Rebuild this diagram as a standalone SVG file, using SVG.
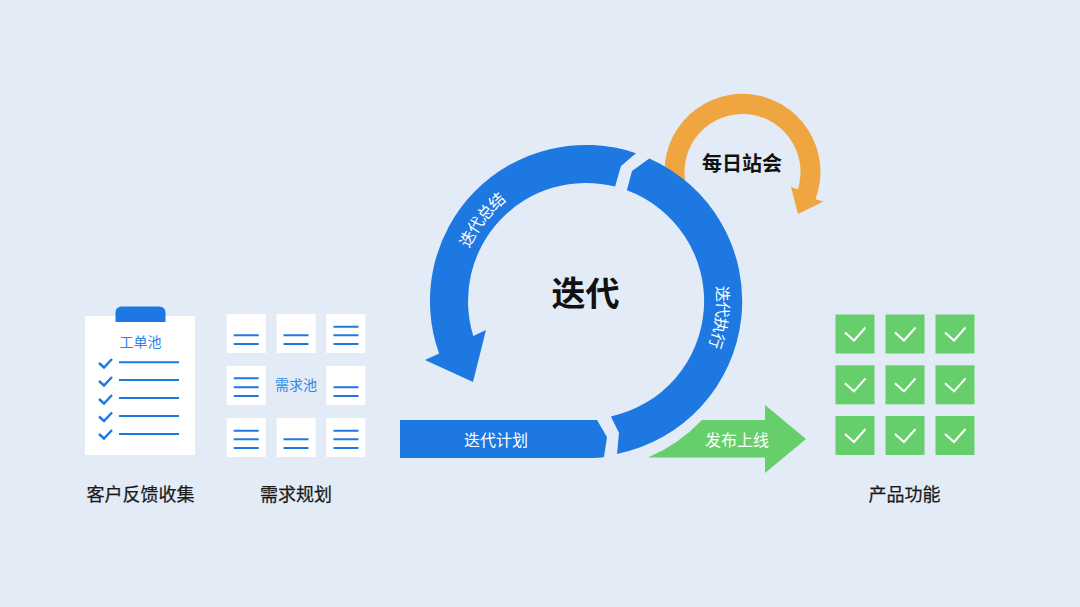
<svg xmlns="http://www.w3.org/2000/svg" xmlns:xlink="http://www.w3.org/1999/xlink" width="1080" height="607" viewBox="0 0 1080 607">
<style>
text{font-family:"Noto Sans CJK SC","Liberation Sans",sans-serif;text-anchor:middle;dominant-baseline:central}
.lbl{font-size:18px;font-weight:400;fill:#1a1a1a;stroke:#1a1a1a;stroke-width:.25}
.w{font-size:16px;fill:#fff}
.b{font-size:14px;fill:#2f84e4}
.card{fill:#fff}
.ln{stroke:#1e78e2;stroke-width:2;fill:none}
.ck{stroke:#1e78e2;stroke-width:2.4;fill:none}
.gs{fill:#66cf6b}
.gc{stroke:#fff;stroke-width:2;fill:none}
.blue{fill:#1e78e2}
</style>
<defs>
<path id="p-sum" d="M452.300 282.200A135 135 0 0 1 535.400 175.800"/>
<path id="p-exe" d="M713 247.100A138 138 0 0 1 696.200 384"/>
<g id="gcell"><rect class="gs" x="0" y="0" width="39" height="39"/><path class="gc" d="M9.500 18L18.500 26L30 13"/></g>
<path id="tick" class="ck" d="M99 363L104 367.500L112 359"/>
</defs>
<rect width="1080" height="607" fill="#e3ebf6"/>
<g id="clipboard">
<rect class="card" x="85" y="316" width="110" height="139"/>
<path class="blue" d="M115.500 322V312.500A6 6 0 0 1 121.500 306.500H159.500A6 6 0 0 1 165.500 312.500V322Z"/>
<text class="b" x="140.500" y="340.800">工单池</text>
<path class="ln" d="M119 362.300H179M119 380H179M119 398H179M119 416H179M119 434H179"/>
<use xlink:href="#tick" href="#tick"/>
<use xlink:href="#tick" href="#tick" y="18"/>
<use xlink:href="#tick" href="#tick" y="36"/>
<use xlink:href="#tick" href="#tick" y="53.500"/>
<use xlink:href="#tick" href="#tick" y="71"/>
<text class="lbl" x="140.500" y="492.500">客户反馈收集</text>
</g>
<g id="backlog">
<rect class="card" x="226.700" y="314" width="39" height="39"/>
<rect class="card" x="276.700" y="314" width="39" height="39"/>
<rect class="card" x="326.300" y="314" width="39" height="39"/>
<rect class="card" x="226.700" y="366" width="39" height="39"/>
<rect class="card" x="326.300" y="366" width="39" height="39"/>
<rect class="card" x="226.700" y="418" width="39" height="39"/>
<rect class="card" x="276.700" y="418" width="39" height="39"/>
<rect class="card" x="326.300" y="418" width="39" height="39"/>
<path class="ln" d="M233.700 335.300H258.700M233.700 344H258.700M283.500 335.300H308.500M283.500 344H308.500M333.500 326.700H358.500M333.500 335.300H358.500M333.500 344H358.500M233.700 378.300H258.700M233.700 387.300H258.700M233.700 396H258.700M333.500 387.300H358.500M333.500 396H358.500M233.700 430.700H258.700M233.700 439.300H258.700M233.700 448H258.700M283.500 439.300H308.500M283.500 448H308.500M333.500 430.700H358.500M333.500 439.300H358.500M333.500 448H358.500"/>
<text class="b" x="296" y="383.800">需求池</text>
<text class="lbl" x="296" y="492.500">需求规划</text>
</g>
<g id="daily">
<path fill="#efa640" d="M666.600 190A78 78 0 1 1 815.500 199.200L823.500 201.500L798 214L791 187L797.900 189.200A58 58 0 1 0 687.400 190Z"/>
<text x="742" y="162" font-size="20" font-weight="700" fill="#111">每日站会</text>
</g>
<g id="connectors">
<path class="blue" d="M636 153.200A156 156 0 0 0 439.100 353.600L425 360L473 382L486 330L473.300 335.900A118 118 0 0 1 615.100 186.600L621 166Z"/>
<path class="blue" d="M649.300 158.400L632 171L626.900 190.300A118 118 0 0 1 610.900 416.400L619 433L617 454A156 156 0 0 0 649.300 158.400Z"/>
<path class="blue" d="M400 420H597L607 437L604 457Q600 458 590 458H400Z"/>
<path class="gs" d="M648 457.500Q678 445 702 420H765V405L806 439L765 473V457.500Z"/>
</g>
<g id="labels">
<text class="w"><textPath href="#p-sum" xlink:href="#p-sum" startOffset="50%">迭代总结</textPath></text>
<text class="w"><textPath href="#p-exe" xlink:href="#p-exe" startOffset="50%">迭代执行</textPath></text>
<text class="w" x="496" y="438.500">迭代计划</text>
<text class="w" x="737" y="438.500">发布上线</text>
<text x="585.500" y="291.500" font-size="34" font-weight="700" fill="#111">迭代</text>
</g>
<g id="features">
<use xlink:href="#gcell" href="#gcell" x="835.500" y="314.500"/>
<use xlink:href="#gcell" href="#gcell" x="885.500" y="314.500"/>
<use xlink:href="#gcell" href="#gcell" x="935.500" y="314.500"/>
<use xlink:href="#gcell" href="#gcell" x="835.500" y="365.300"/>
<use xlink:href="#gcell" href="#gcell" x="885.500" y="365.300"/>
<use xlink:href="#gcell" href="#gcell" x="935.500" y="365.300"/>
<use xlink:href="#gcell" href="#gcell" x="835.500" y="416"/>
<use xlink:href="#gcell" href="#gcell" x="885.500" y="416"/>
<use xlink:href="#gcell" href="#gcell" x="935.500" y="416"/>
<text class="lbl" x="904.500" y="492.500">产品功能</text>
</g>
</svg>
